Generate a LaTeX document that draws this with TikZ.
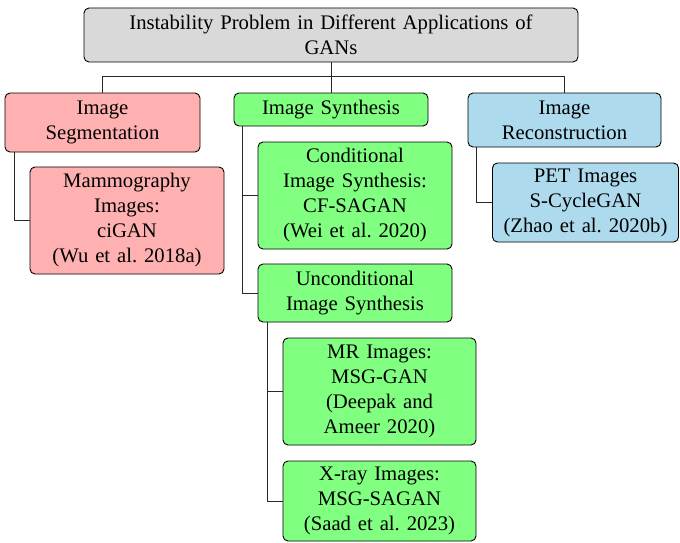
\documentclass[tikz,border=0pt]{standalone}
\usepackage{fontspec}
\setmainfont{Liberation Serif}
\frenchspacing
\definecolor{cgray}{RGB}{217,217,217}
\definecolor{cpink}{RGB}{255,176,176}
\definecolor{cgreen}{RGB}{128,255,128}
\definecolor{cblue}{RGB}{174,218,238}
\definecolor{cline}{RGB}{40,40,40}
\tikzset{
  box/.style={draw=black, rounded corners=5pt, line width=0.9pt, align=center,
    inner xsep=3pt, inner ysep=2pt, font=\fontsize{20.7}{25}\selectfont},
  conn/.style={draw=cline, line width=0.9pt},
}
\begin{document}
\begin{tikzpicture}[x=1pt,y=-1pt]
\useasboundingbox (0,0) rectangle (680,543);
\node[box, fill=cgray, minimum width=494pt, minimum height=54pt, text width=480pt] (root) at (331,35)
  {Instability Problem in Different Applications of\\GANs};
\node[box, fill=cpink, minimum width=195pt, minimum height=59pt, text width=185pt] (seg) at (102.5,122.5)
  {Image\\Segmentation};
\node[box, fill=cgreen, minimum width=194pt, minimum height=33pt, text width=184pt] (syn) at (331,109.5)
  {Image Synthesis};
\node[box, fill=cblue, minimum width=193pt, minimum height=54pt, text width=183pt] (rec) at (564.5,120)
  {Image\\Reconstruction};
\node[box, fill=cpink, minimum width=194pt, minimum height=107pt, text width=184pt] (mam) at (127,220.5)
  {Mammography\\Images:\\ciGAN\\(Wu et al. 2018a)};
\node[box, fill=cgreen, minimum width=194pt, minimum height=107pt, text width=184pt] (cond) at (355,195.5)
  {Conditional\\Image Synthesis:\\CF-SAGAN\\(Wei et al. 2020)};
\node[box, fill=cgreen, minimum width=194pt, minimum height=58pt, text width=184pt] (uncond) at (355,293)
  {Unconditional\\Image Synthesis};
\node[box, fill=cgreen, minimum width=193pt, minimum height=107pt, text width=183pt] (mr) at (379.5,391.5)
  {MR Images:\\MSG-GAN\\(Deepak and\\Ameer 2020)};
\node[box, fill=cgreen, minimum width=193pt, minimum height=80pt, text width=183pt] (xray) at (379.5,501)
  {X-ray Images:\\MSG-SAGAN\\(Saad et al. 2023)};
\node[box, fill=cblue, minimum width=186pt, minimum height=79pt, text width=176pt] (pet) at (585.5,202.5)
  {PET Images\\S-CycleGAN\\(Zhao et al. 2020b)};
% top connectors
\coordinate (j) at (331,76);
\draw[conn] (root.south) -- (syn.north);
\draw[conn] (seg.north) -- (seg.north |- j) -- (rec.north |- j) -- (rec.north);
% tree connectors
\draw[conn] ([xshift=10pt]seg.south west) |- (mam.west);
\draw[conn] ([xshift=9pt]syn.south west) |- (cond.west);
\draw[conn] ([xshift=9pt]syn.south west) |- (uncond.west);
\draw[conn] ([xshift=10pt]uncond.south west) |- (mr.west);
\draw[conn] ([xshift=10pt]uncond.south west) |- (xray.west);
\draw[conn] ([xshift=9pt]rec.south west) |- (pet.west);
\end{tikzpicture}
\end{document}
